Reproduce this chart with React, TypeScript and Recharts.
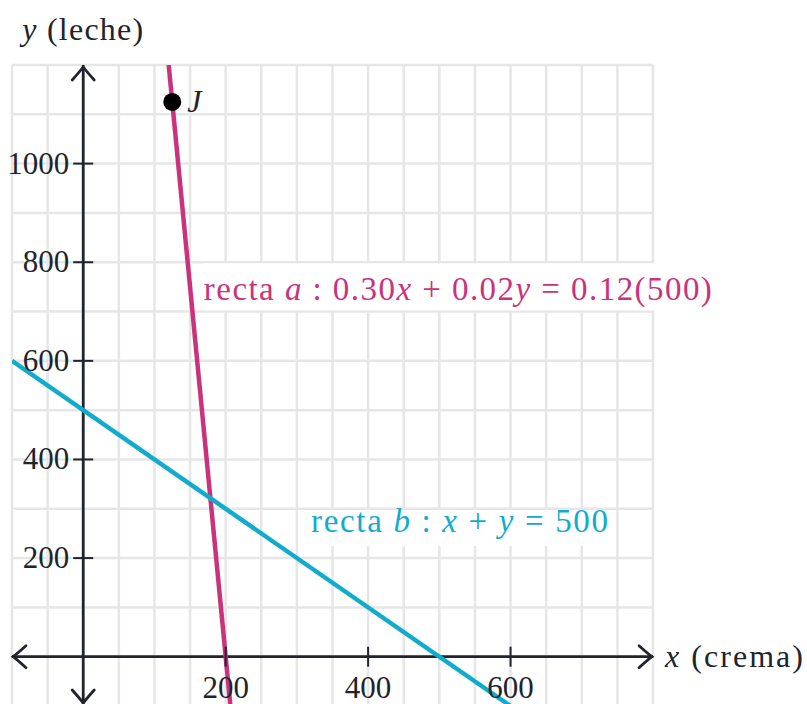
import React from "react";
import { ComposedChart, XAxis, YAxis, Line, ReferenceLine, ReferenceDot } from "recharts";

// grid every 50 on x, every 100 on y
const gridX = [-100, -50, 0, 50, 100, 150, 200, 250, 300, 350, 400, 450, 500, 550, 600, 650, 700, 750, 800];
const gridY = [-100, 0, 100, 200, 300, 400, 500, 600, 700, 800, 900, 1000, 1100, 1200];

const xTicks = [200, 400, 600];
const yTicks = [200, 400, 600, 800, 1000];

// recta a: 0.30x + 0.02y = 0.12(500)
const lineA = [
  { x: 120, y: 1200 },
  { x: 206.67, y: -100 },
];
// recta b: x + y = 500
const lineB = [
  { x: -100, y: 600 },
  { x: 600, y: -100 },
];
const pointJ = { x: 125, y: 1125 };

const serif = '"Liberation Serif", "DejaVu Serif", serif';
const ink = "#21242c";
const pink = "#ca337c";
const blue = "#11accd";
const gridColor = "#e6e6e6";

type DotProps = { cx?: number; cy?: number };

function arrowHead(dir: "right" | "left" | "up" | "down") {
  return (p: DotProps) => {
    const cx = p.cx ?? 0;
    const cy = p.cy ?? 0;
    let d = "";
    if (dir === "right") {
      const t = cx - 1;
      d = `M${t - 13},${cy - 11} Q${t - 4},${cy - 3} ${t},${cy} Q${t - 4},${cy + 3} ${t - 13},${cy + 11}`;
    } else if (dir === "left") {
      const t = cx + 1;
      d = `M${t + 13},${cy - 11} Q${t + 4},${cy - 3} ${t},${cy} Q${t + 4},${cy + 3} ${t + 13},${cy + 11}`;
    } else if (dir === "up") {
      const t = cy + 2;
      d = `M${cx - 11},${t + 13} Q${cx - 3},${t + 4} ${cx},${t} Q${cx + 3},${t + 4} ${cx + 11},${t + 13}`;
    } else {
      const t = cy - 3;
      d = `M${cx - 11},${t - 13} Q${cx - 3},${t - 4} ${cx},${t} Q${cx + 3},${t - 4} ${cx + 11},${t - 13}`;
    }
    return <path d={d} fill="none" stroke={ink} strokeWidth={2.8} strokeLinecap="round" />;
  };
}

const xTickShape = (value: number) => (p: DotProps) => {
  const cx = p.cx ?? 0;
  const cy = p.cy ?? 0;
  return (
    <g>
      <line x1={cx} y1={cy - 10} x2={cx} y2={cy + 10} stroke={ink} strokeWidth={2} />
      <text x={cx} y={cy + 41} textAnchor="middle" fontFamily={serif} fontSize={31} fill={ink}>
        {value}
      </text>
    </g>
  );
};

const yTickShape = (value: number) => (p: DotProps) => {
  const cx = p.cx ?? 0;
  const cy = p.cy ?? 0;
  return (
    <g>
      <line x1={cx - 10} y1={cy} x2={cx + 10} y2={cy} stroke={ink} strokeWidth={2} />
      <text x={cx - 14} y={cy + 10} textAnchor="end" fontFamily={serif} fontSize={31} fill={ink}>
        {value}
      </text>
    </g>
  );
};

const it = { fontStyle: "italic" as const };

const labelAShape = (p: DotProps) => {
  const cx = p.cx ?? 0;
  const cy = p.cy ?? 0;
  return (
    <g>
      <rect x={cx - 255} y={cy - 27} width={512} height={47} fill="#fff" />
      <text x={cx - 254} y={cy + 10} fontFamily={serif} fontSize={33} fill={pink} textLength={508} lengthAdjust="spacing">
        recta <tspan style={it}>a</tspan> : 0.30<tspan style={it}>x</tspan> + 0.02<tspan style={it}>y</tspan> = 0.12(500)
      </text>
    </g>
  );
};

const labelBShape = (p: DotProps) => {
  const cx = p.cx ?? 0;
  const cy = p.cy ?? 0;
  return (
    <g>
      <rect x={cx - 154} y={cy - 12} width={308} height={36} fill="#fff" />
      <text x={cx - 149} y={cy + 10} fontFamily={serif} fontSize={33} fill={blue} textLength={297} lengthAdjust="spacing">
        recta <tspan style={it}>b</tspan> : <tspan style={it}>x</tspan> + <tspan style={it}>y</tspan> = 500
      </text>
    </g>
  );
};

const pointShape = (p: DotProps) => {
  const cx = p.cx ?? 0;
  const cy = p.cy ?? 0;
  return (
    <g>
      <circle cx={cx} cy={cy} r={9} fill="#000" />
      <text x={cx + 15} y={cy + 10} fontFamily={serif} fontSize={32} fontStyle="italic" fill={ink}>
        J
      </text>
    </g>
  );
};

const yTitleShape = (p: DotProps) => {
  const cx = p.cx ?? 0;
  const cy = p.cy ?? 0;
  return (
    <text x={cx - 61} y={cy - 25} fontFamily={serif} fontSize={32} fill={ink} textLength={121} lengthAdjust="spacing">
      <tspan style={it}>y</tspan> (leche)
    </text>
  );
};

const xTitleShape = (p: DotProps) => {
  const cx = p.cx ?? 0;
  const cy = p.cy ?? 0;
  return (
    <text x={cx + 12} y={cy + 10} fontFamily={serif} fontSize={32} fill={ink} textLength={138} lengthAdjust="spacing">
      <tspan style={it}>x</tspan> (crema)
    </text>
  );
};

export default function App() {
  return (
    <div style={{ position: "absolute", left: 0, top: 0, width: 807, height: 704, overflow: "hidden", background: "#fff" }}>
      <ComposedChart width={807} height={720} margin={{ top: 65, right: 154, bottom: 14, left: 12 }}>
        <XAxis
          type="number"
          dataKey="x"
          domain={[-100, 800]}
          allowDataOverflow
          axisLine={false}
          tickLine={false}
          tick={false}
          height={0}
        />
        <YAxis
          type="number"
          dataKey="y"
          domain={[-100, 1200]}
          allowDataOverflow
          axisLine={false}
          tickLine={false}
          tick={false}
          width={0}
        />

        {gridX.map((v) => (
          <ReferenceLine key={`gx${v}`} x={v} stroke={gridColor} strokeWidth={2.5} />
        ))}
        {gridY.map((v) => (
          <ReferenceLine key={`gy${v}`} y={v} stroke={gridColor} strokeWidth={2.5} />
        ))}

        <ReferenceLine x={0} stroke={ink} strokeWidth={2.8} />
        <ReferenceLine y={0} stroke={ink} strokeWidth={2.8} />
        <ReferenceDot x={800} y={0} r={1} ifOverflow="visible" shape={arrowHead("right")} />
        <ReferenceDot x={-100} y={0} r={1} ifOverflow="visible" shape={arrowHead("left")} />
        <ReferenceDot x={0} y={1200} r={1} ifOverflow="visible" shape={arrowHead("up")} />
        <ReferenceDot x={0} y={-100} r={1} ifOverflow="visible" shape={arrowHead("down")} />

        {xTicks.map((v) => (
          <ReferenceDot key={`xt${v}`} x={v} y={0} r={1} ifOverflow="visible" shape={xTickShape(v)} />
        ))}
        {yTicks.map((v) => (
          <ReferenceDot key={`yt${v}`} x={0} y={v} r={1} ifOverflow="visible" shape={yTickShape(v)} />
        ))}

        <Line data={lineA} dataKey="y" type="linear" stroke={pink} strokeWidth={4.5} dot={false} activeDot={false} isAnimationActive={false} />
        <Line data={lineB} dataKey="y" type="linear" stroke={blue} strokeWidth={4.5} dot={false} activeDot={false} isAnimationActive={false} />

        <ReferenceDot x={pointJ.x} y={pointJ.y} r={9} ifOverflow="visible" shape={pointShape} />
        <ReferenceDot x={526} y={743} r={1} ifOverflow="visible" shape={labelAShape} />
        <ReferenceDot x={529} y={273} r={1} ifOverflow="visible" shape={labelBShape} />
        <ReferenceDot x={0} y={1200} r={1} ifOverflow="visible" shape={yTitleShape} />
        <ReferenceDot x={800} y={0} r={1} ifOverflow="visible" shape={xTitleShape} />
      </ComposedChart>
    </div>
  );
}
